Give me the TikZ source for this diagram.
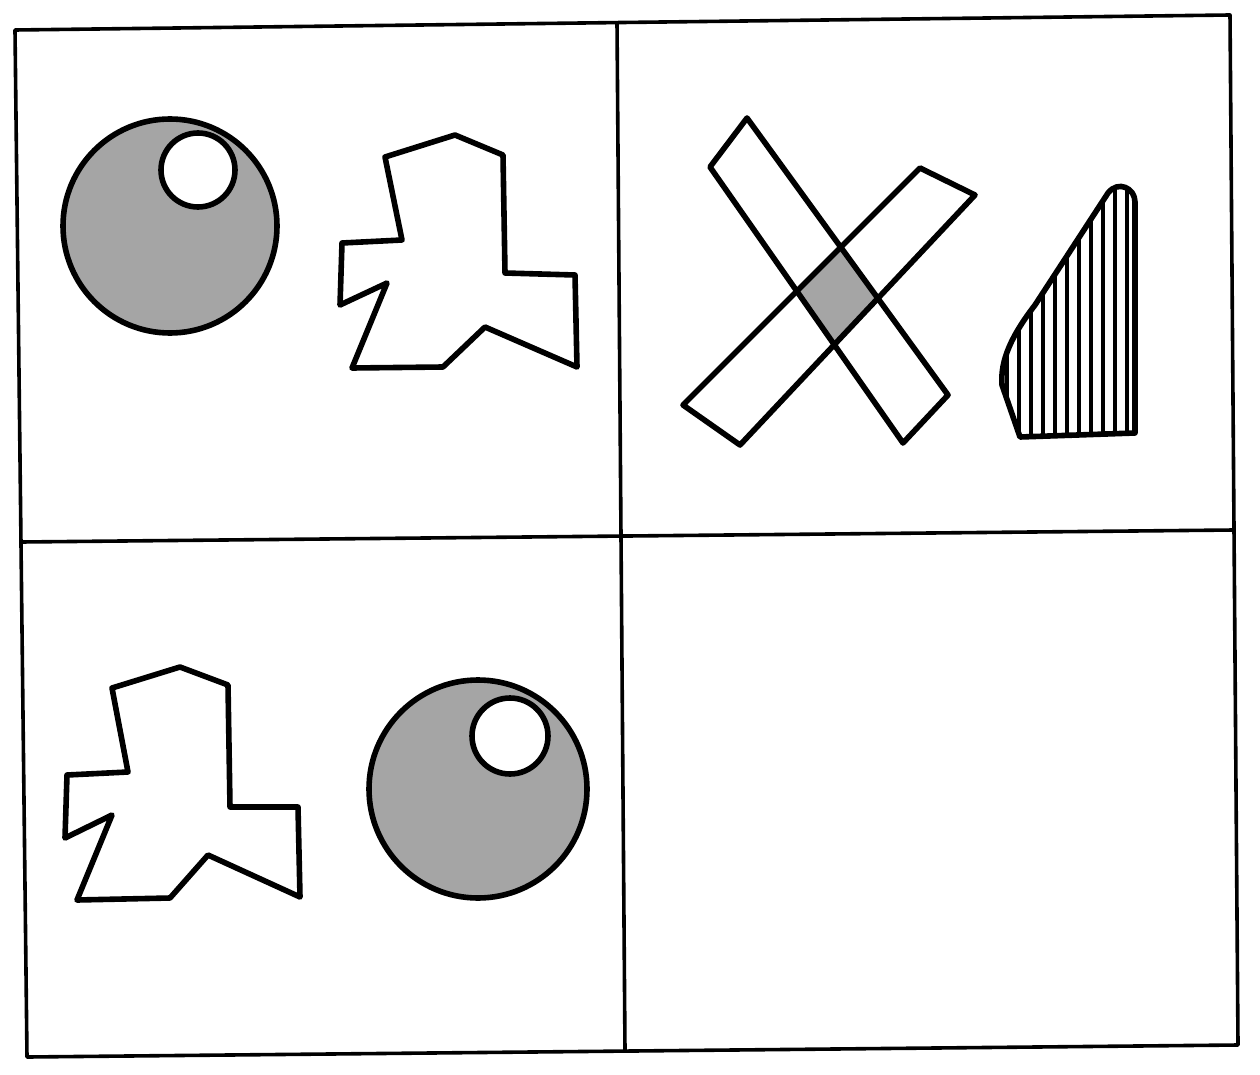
\documentclass[tikz,border=0pt]{standalone}
\begin{document}
\begin{tikzpicture}[x=1pt,y=-1pt,
  framestyle/.style={line width=3.6pt,line join=round},
  outl/.style={line width=5.6pt,line join=round},
  greyfill/.style={fill={rgb,255:red,165;green,165;blue,165}}]
\useasboundingbox (0,0) rectangle (1260,1075);
% frame
\coordinate (TL) at (15,30);
\coordinate (TR) at (1230,15);
\coordinate (BR) at (1238,1045);
\coordinate (BL) at (27,1057);
\coordinate (MT) at (617,23);
\coordinate (MB) at (625,1051);
\coordinate (ML) at (21,542);
\coordinate (MR) at (1234,530);
\draw[framestyle] (TL) -- (TR) -- (BR) -- (BL) -- cycle;
\draw[framestyle] (MT) -- (MB);
\draw[framestyle] (ML) -- (MR);
% top-left circle
\draw[outl,greyfill] (170,226) circle[radius=107];
\draw[outl,fill=white] (198,170) circle[radius=37];
% top-left polygon
\draw[outl] (385,157) -- (455,135) -- (503,155) -- (505,273) -- (575,275) -- (577,367)
  -- (485,327) -- (443,367) -- (352,368) -- (387,283) -- (340,305) -- (342,243) -- (402,240) -- cycle;
% X shape
\begin{scope}
\clip (710,167) -- (747,118) -- (948,395) -- (903,443) -- cycle;
\fill[greyfill] (683,405) -- (920,168) -- (975,195) -- (740,445) -- cycle;
\end{scope}
\draw[outl] (710,167) -- (747,118) -- (948,395) -- (903,443) -- cycle;
\draw[outl] (683,405) -- (920,168) -- (975,195) -- (740,445) -- cycle;
% hatched shape
\begin{scope}
\clip (1020,437) -- (1135,433) -- (1135,202) .. controls (1135,188) and (1118,180) .. (1108,193)
  -- (1035,305) .. controls (1012,335) and (1000,360) .. (1002,385) -- cycle;
\foreach \xx in {1007,1019,...,1135} \draw[line width=3.4pt] (\xx,170) -- (\xx,450);
\end{scope}
\draw[outl] (1020,437) -- (1135,433) -- (1135,202) .. controls (1135,188) and (1118,180) .. (1108,193)
  -- (1035,305) .. controls (1012,335) and (1000,360) .. (1002,385) -- cycle;
% bottom-left polygon
\draw[outl] (112,688) -- (180,667) -- (228,685) -- (230,807) -- (298,807) -- (300,897)
  -- (208,855) -- (170,898) -- (77,900) -- (112,815) -- (65,838) -- (67,775) -- (128,772) -- cycle;
% bottom circle
\draw[outl,greyfill] (478,789) circle[radius=109];
\draw[outl,fill=white] (510,736) circle[radius=38];
\end{tikzpicture}
\end{document}
